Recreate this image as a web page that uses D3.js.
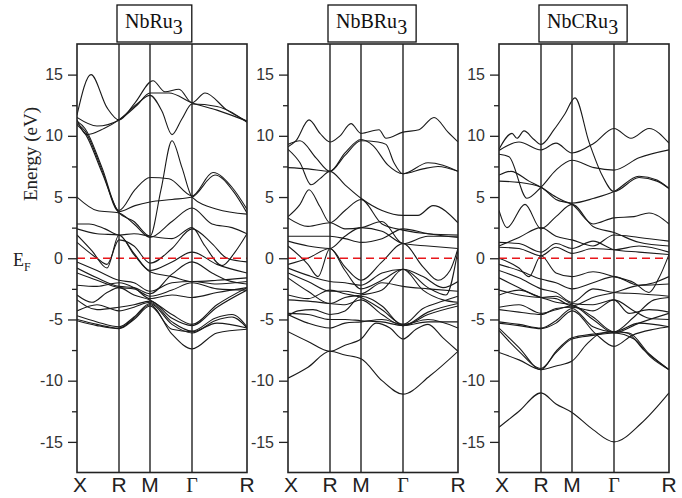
<!DOCTYPE html>
<html><head><meta charset="utf-8">
<script src="https://cdn.jsdelivr.net/npm/d3@7"></script>
<style>body{margin:0;background:#fff}</style>
</head><body>
<svg id="c" width="682" height="498"></svg>
<script>
const kLabels = ["X","R","M","Γ","R"];
const kPos = [0,42,73,115,170];
const yTicks = [-15,-10,-5,0,5,10,15];
const yMinorTicks = [-12.5,-7.5,-2.5,2.5,7.5,12.5];
const titleBase = ["NbRu","NbBRu","NbCRu"];
const titleSub = ["3","3","3"];

const bandsNbRu3 = [
 [[0,11.7],[14,15.0],[30,12.3],[42,11.3],[58,12.7],[76,14.5],[88,13.6],[102,13.8],[115,12.7],[128,13.5],[150,12.1],[170,11.2]],
 [[0,11.5],[20,10.8],[42,11.3],[60,12.5],[73,13.5],[92,13.5],[115,12.7],[140,12.1],[170,11.2]],
 [[0,11.3],[10,10.1],[27,10.6],[42,11.3],[60,12.6],[73,13.3],[85,12.0],[95,10.1],[105,11.4],[115,12.6],[140,12.4],[170,11.1]],
 [[0,11.2],[8,10.6],[25,7.4],[42,3.9],[58,5.6],[73,6.6],[92,6.5],[115,5.1],[136,7.0],[155,5.8],[170,4.0]],
 [[0,11.0],[8,10.4],[25,7.2],[42,3.8],[58,4.3],[73,4.6],[95,4.8],[115,5.0],[138,6.8],[156,5.5],[170,3.7]],
 [[0,10.9],[8,10.2],[25,7.0],[42,3.7],[57,3.0],[73,1.8],[84,5.6],[95,9.6],[105,7.4],[115,5.0],[140,4.0],[170,3.6]],
 [[0,5.0],[20,3.9],[42,3.7],[57,2.8],[73,1.7],[95,3.0],[115,4.1],[135,2.8],[155,2.5],[170,2.0]],
 [[0,2.8],[12,2.8],[28,2.4],[42,1.9],[57,2.0],[73,1.8],[95,1.6],[115,2.5],[128,1.0],[145,-0.6],[158,0.5],[170,2.0]],
 [[0,2.4],[20,2.0],[42,1.9],[57,0.4],[73,-1.0],[95,-0.3],[115,0.5],[140,-0.5],[170,-1.2]],
 [[0,1.9],[15,0.6],[30,-0.8],[42,1.9],[57,0.3],[73,-1.1],[95,-1.5],[115,-1.9],[140,-1.8],[170,-1.6]],
 [[0,1.3],[20,0.0],[30,-0.5],[42,1.5],[57,1.0],[73,-0.4],[95,0.8],[115,2.4],[135,1.2],[150,0.0],[170,-0.3]],
 [[0,-0.3],[20,-1.0],[42,-1.8],[57,-2.0],[73,-2.7],[95,-2.0],[115,-1.9],[140,-2.1],[170,-1.9]],
 [[0,-0.8],[20,-1.6],[42,-2.3],[57,-2.4],[73,-2.9],[95,-1.3],[115,-0.3],[135,-1.2],[150,-1.8],[170,-2.1]],
 [[0,-1.2],[20,-1.8],[42,-2.4],[57,-2.5],[73,-3.1],[95,-2.6],[115,-2.0],[140,-2.5],[170,-2.6]],
 [[0,-2.2],[20,-2.3],[42,-2.0],[57,-2.4],[73,-3.3],[95,-3.0],[115,-3.2],[140,-2.8],[170,-2.4]],
 [[0,-3.0],[15,-3.6],[30,-2.8],[42,-2.4],[57,-3.0],[73,-3.4],[95,-4.6],[115,-5.4],[140,-3.8],[170,-2.4]],
 [[0,-3.4],[20,-4.2],[42,-4.0],[57,-3.8],[73,-3.5],[95,-4.9],[115,-5.5],[140,-4.0],[170,-2.6]],
 [[0,-4.3],[20,-3.8],[42,-4.3],[57,-4.0],[73,-3.6],[95,-5.2],[115,-5.95],[138,-4.9],[155,-4.6],[170,-5.6]],
 [[0,-4.7],[20,-5.2],[42,-5.6],[57,-4.8],[73,-3.7],[95,-5.4],[115,-6.1],[138,-5.1],[155,-4.8],[170,-5.7]],
 [[0,-5.0],[20,-5.4],[42,-5.7],[57,-4.9],[73,-3.8],[95,-6.2],[115,-7.4],[140,-6.1],[170,-5.8]],
 [[0,-5.1],[20,-5.5],[42,-5.75],[57,-5.0],[73,-3.9],[95,-5.8],[115,-6.0],[140,-5.3],[170,-5.7]]
];

const bandsNbBRu3 = [
 [[0,9.1],[8,9.6],[21,11.3],[32,10.2],[42,9.5],[52,10.0],[63,11.0],[73,10.2],[91,10.5],[98,9.8],[115,10.3],[131,10.5],[146,11.5],[160,10.3],[170,9.5]],
 [[0,9.3],[12,9.6],[28,8.2],[42,7.1],[57,8.6],[73,9.7],[85,9.2],[100,7.6],[115,6.9],[140,7.8],[155,7.6],[170,7.1]],
 [[0,8.9],[12,7.8],[23,6.0],[32,6.5],[42,7.1],[57,6.0],[73,4.9],[94,3.9],[115,3.5],[130,3.5],[145,4.3],[170,2.9]],
 [[0,7.4],[20,7.3],[42,7.1],[57,8.4],[73,9.6],[90,9.5],[98,9.3],[106,7.8],[115,6.9],[135,7.3],[150,7.5],[170,7.1]],
 [[0,3.4],[12,4.4],[21,5.6],[32,4.2],[42,2.9],[57,3.9],[73,4.8],[94,2.8],[115,2.3],[140,2.0],[170,1.9]],
 [[0,3.3],[20,2.6],[42,2.9],[57,2.4],[73,2.5],[94,3.0],[115,1.2],[140,1.8],[170,1.8]],
 [[0,1.8],[20,1.8],[42,1.8],[57,1.6],[73,1.3],[94,1.6],[115,2.4],[140,2.0],[170,1.7]],
 [[0,1.4],[20,1.0],[42,0.8],[57,1.8],[73,2.5],[94,2.2],[115,1.2],[140,1.0],[170,0.8]],
 [[0,1.0],[20,-0.5],[30,-1.5],[42,0.8],[57,-0.7],[73,-1.8],[94,-0.3],[115,1.2],[135,-0.7],[150,-1.8],[162,-1.0],[170,0.8]],
 [[0,-0.5],[20,0.0],[42,0.8],[57,-1.0],[73,-2.5],[94,-1.8],[115,-0.9],[140,-2.4],[158,-3.0],[170,0.7]],
 [[0,-0.8],[20,-1.4],[42,-1.9],[57,-2.0],[73,-2.2],[94,-1.2],[115,-0.9],[135,-1.5],[155,-2.4],[170,-1.9]],
 [[0,-1.2],[20,-1.9],[42,-2.7],[57,-2.7],[73,-2.9],[94,-2.0],[115,-2.3],[140,-2.5],[170,-2.7]],
 [[0,-1.6],[20,-2.7],[42,-3.7],[57,-3.2],[73,-3.0],[94,-2.6],[115,-0.9],[135,-2.6],[155,-3.4],[170,-3.6]],
 [[0,-3.0],[20,-3.3],[42,-2.6],[57,-2.9],[73,-3.2],[94,-4.2],[115,-5.4],[135,-4.1],[155,-3.5],[170,-3.1]],
 [[0,-3.4],[20,-3.5],[42,-3.7],[57,-3.8],[73,-3.4],[94,-4.6],[115,-5.5],[140,-4.6],[170,-3.9]],
 [[0,-4.5],[20,-4.6],[42,-5.0],[57,-5.0],[73,-5.1],[94,-5.2],[115,-5.5],[140,-5.2],[170,-5.2]],
 [[0,-4.6],[20,-5.3],[42,-5.7],[57,-5.3],[73,-5.2],[94,-5.0],[115,-5.4],[140,-5.0],[170,-5.7]],
 [[0,-4.7],[10,-4.3],[25,-4.2],[42,-4.6],[57,-4.3],[73,-3.1],[94,-3.9],[115,-5.5],[140,-4.4],[170,-3.7]],
 [[0,-6.0],[20,-6.8],[42,-7.6],[57,-7.1],[73,-6.6],[88,-5.3],[102,-5.7],[115,-6.6],[128,-5.8],[140,-5.4],[155,-6.5],[170,-7.6]],
 [[0,-9.8],[20,-8.9],[42,-7.6],[57,-7.9],[73,-8.2],[94,-10.0],[115,-11.1],[142,-9.6],[170,-7.6]]
];

const bandsNbCRu3 = [
 [[0,8.9],[13,10.2],[18,9.8],[25,10.4],[35,9.7],[42,9.3],[55,10.5],[66,11.8],[76,13.1],[90,9.5],[103,6.8],[115,5.45],[140,6.6],[158,6.3],[170,5.7]],
 [[0,8.8],[20,9.5],[42,8.85],[57,9.4],[73,8.6],[95,9.4],[115,10.6],[132,9.8],[150,10.6],[170,9.4]],
 [[0,8.5],[10,8.3],[28,4.9],[42,5.8],[57,7.2],[73,8.0],[95,7.4],[115,7.2],[140,8.2],[170,8.85]],
 [[0,6.8],[12,7.1],[30,6.3],[42,5.8],[57,5.0],[73,4.5],[95,4.9],[115,5.45],[140,6.7],[158,6.4],[170,5.7]],
 [[0,6.3],[20,6.2],[42,5.8],[57,4.8],[73,4.4],[94,2.8],[115,3.3],[135,3.4],[150,3.7],[170,2.8]],
 [[0,3.9],[8,2.5],[26,4.4],[42,2.4],[57,3.4],[73,4.4],[94,2.6],[115,2.1],[140,1.3],[170,1.0]],
 [[0,1.0],[20,1.7],[42,2.5],[57,1.8],[73,1.5],[94,1.0],[115,1.9],[140,1.7],[170,1.4]],
 [[0,1.3],[20,1.2],[42,0.5],[57,1.2],[73,0.8],[94,1.4],[115,0.7],[140,0.5],[170,0.3]],
 [[0,0.9],[20,0.8],[42,0.2],[57,0.9],[73,0.4],[94,0.8],[115,0.7],[140,1.0],[170,0.5]],
 [[0,0.0],[20,-0.8],[30,-1.5],[42,0.2],[57,-1.2],[73,-1.5],[94,-1.1],[115,-1.5],[135,-2.0],[150,-2.8],[160,-1.6],[170,0.3]],
 [[0,-0.5],[20,-1.0],[42,-1.7],[57,-2.0],[73,-2.5],[94,-2.0],[115,-1.5],[140,-2.2],[170,-2.1]],
 [[0,-1.0],[20,-1.6],[42,-2.5],[57,-2.8],[73,-3.6],[94,-2.5],[115,-2.8],[140,-2.9],[170,-3.1]],
 [[0,-1.6],[20,-2.4],[42,-3.2],[57,-3.3],[73,-3.9],[94,-3.2],[115,-2.8],[135,-2.3],[155,-2.0],[170,-1.5]],
 [[0,-2.6],[20,-3.0],[42,-3.2],[57,-3.1],[73,-3.7],[94,-3.8],[115,-3.4],[130,-4.5],[150,-4.2],[170,-4.4]],
 [[0,-3.0],[20,-2.6],[42,-3.2],[57,-3.6],[73,-3.8],[94,-4.8],[115,-6.0],[135,-4.8],[155,-3.4],[170,-3.2]],
 [[0,-4.0],[20,-3.8],[42,-4.5],[57,-4.2],[73,-3.9],[94,-5.0],[115,-6.1],[140,-5.3],[170,-4.5]],
 [[0,-4.2],[20,-4.4],[42,-4.6],[57,-4.1],[73,-4.0],[94,-4.3],[115,-3.4],[135,-4.3],[150,-4.9],[170,-5.0]],
 [[0,-5.2],[20,-5.4],[42,-5.7],[57,-5.1],[73,-4.1],[94,-5.6],[115,-6.0],[140,-5.3],[170,-5.6]],
 [[0,-5.3],[20,-5.5],[42,-5.75],[57,-5.3],[73,-4.3],[97,-6.2],[115,-7.2],[133,-6.3],[155,-5.8],[170,-5.6]],
 [[0,-5.7],[20,-7.3],[42,-9.1],[57,-7.6],[73,-6.5],[94,-6.2],[115,-6.0],[130,-6.1],[150,-7.8],[170,-9.1]],
 [[0,-5.9],[20,-7.6],[42,-9.0],[57,-7.7],[73,-6.6],[94,-6.3],[115,-6.1],[135,-6.6],[152,-8.1],[170,-9.1]],
 [[0,-7.7],[20,-8.3],[42,-9.1],[57,-8.8],[73,-8.4],[88,-7.0],[100,-6.2],[115,-6.0],[128,-6.1],[145,-7.5],[170,-9.1]],
 [[0,-13.8],[20,-12.5],[42,-11.0],[57,-11.9],[73,-12.6],[94,-14.0],[115,-15.0],[142,-13.5],[170,-11.0]]
];

const allBands = [bandsNbRu3, bandsNbBRu3, bandsNbCRu3];

const svg = d3.select("#c");
const panelLeft = [77, 288, 499];
const pw = 170, pTop = 44, pBottom = 472.5;
const y = d3.scaleLinear().domain([-17.5, 17.5]).range([pBottom, pTop]);

allBands.forEach((bands, i) => {
  const L = panelLeft[i];
  const x = d3.scaleLinear().domain([0, 170]).range([L, L + pw]);
  const g = svg.append("g");
  const clipId = "clip" + i;
  svg.append("clipPath").attr("id", clipId).append("rect")
    .attr("x", L).attr("y", pTop).attr("width", pw).attr("height", pBottom - pTop);

  const line = d3.line().x(d => x(d[0])).y(d => y(d[1])).curve(d3.curveMonotoneX);
  g.append("g").attr("clip-path", `url(#${clipId})`)
    .selectAll("path").data(bands).join("path")
    .attr("d", line).attr("fill", "none").attr("stroke", "#1a1a1a").attr("stroke-width", 1.1);

  g.append("line").attr("x1", x(0)).attr("x2", x(170)).attr("y1", y(0)).attr("y2", y(0))
    .attr("stroke", "#e8161b").attr("stroke-width", 1.6).attr("stroke-dasharray", "8,5");

  g.selectAll("line.sym").data(kPos.slice(1, 4)).join("line").attr("class", "sym")
    .attr("x1", d => x(d)).attr("x2", d => x(d)).attr("y1", pTop).attr("y2", pBottom)
    .attr("stroke", "#222").attr("stroke-width", 1.4);

  g.append("rect").attr("x", L).attr("y", pTop).attr("width", pw).attr("height", pBottom - pTop)
    .attr("fill", "none").attr("stroke", "#222").attr("stroke-width", 1.6);

  const ax = g.append("g").attr("transform", `translate(${L},0)`)
    .call(d3.axisLeft(y).tickValues(yTicks).tickSize(9).tickPadding(5).tickFormat(d => String(d)));
  ax.select(".domain").remove();
  ax.selectAll("line").attr("stroke", "#222").attr("stroke-width", 1.3);
  ax.selectAll("text").attr("font-family", "Liberation Sans, Arial, sans-serif").attr("font-size", 16).attr("fill", "#333");
  const axm = g.append("g").attr("transform", `translate(${L},0)`)
    .call(d3.axisLeft(y).tickValues(yMinorTicks).tickSize(5).tickFormat(""));
  axm.select(".domain").remove();
  axm.selectAll("line").attr("stroke", "#222").attr("stroke-width", 1.3);

  g.selectAll("text.k").data(kLabels).join("text").attr("class", "k")
    .attr("x", (d, j) => x(kPos[j]) + (j === 0 ? 3 : 0)).attr("y", 492)
    .attr("text-anchor", "middle")
    .attr("font-family", (d) => d === "Γ" ? "Liberation Serif, Times New Roman, serif" : "Liberation Sans, Arial, sans-serif")
    .attr("font-size", d => d === "Γ" ? 20 : 21).attr("fill", "#222")
    .text(d => d);

  const tg = g.append("g");
  const box = tg.append("rect").attr("x", L + 40).attr("y", 5).attr("height", 37)
    .attr("fill", "#fff").attr("stroke", "#111").attr("stroke-width", 1.3);
  const t = tg.append("text").attr("x", L + 48).attr("y", 28)
    .attr("font-family", "Liberation Serif, Times New Roman, serif").attr("font-size", 20).attr("fill", "#111");
  t.append("tspan").text(titleBase[i]);
  t.append("tspan").attr("dy", 6).attr("font-size", 20).text(titleSub[i]);
  const bb = t.node().getBBox();
  box.attr("width", bb.width + 17);
});

svg.append("text").attr("transform", "translate(37,154) rotate(-90)")
  .attr("text-anchor", "middle").attr("font-family", "Liberation Serif, Times New Roman, serif")
  .attr("font-size", 19).attr("fill", "#222").text("Energy (eV)");
const ef = svg.append("text").attr("x", 13).attr("y", 266)
  .attr("font-family", "Liberation Serif, Times New Roman, serif").attr("font-size", 18).attr("fill", "#222");
ef.append("tspan").text("E");
ef.append("tspan").attr("dy", 5).attr("font-size", 12).text("F");
</script>
</body></html>
